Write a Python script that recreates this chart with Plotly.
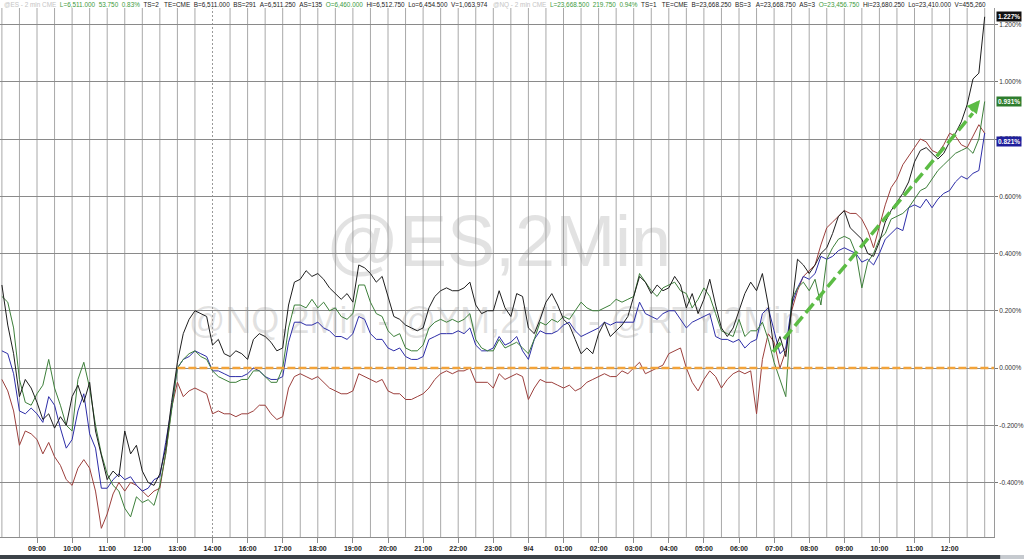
import plotly.graph_objects as go

# ---------------- data (percent change, 10-minute samples) ----------------
# x axis: session hours counted from 09:00 (index 0); 14:00 -> 16:00 break compressed
start_hour = -1.0
step_hours = 1 / 6

hour_labels = ["09:00", "10:00", "11:00", "12:00", "13:00", "14:00", "16:00", "17:00",
               "18:00", "19:00", "20:00", "21:00", "22:00", "23:00", "9/4", "01:00",
               "02:00", "03:00", "04:00", "05:00", "06:00", "07:00", "08:00", "09:00",
               "10:00", "11:00", "12:00"]

nq_black = [
    0.29, 0.15, 0.05, -0.10, -0.04, -0.07,
    -0.12, -0.18, -0.16, -0.21, -0.17, -0.20,
    -0.10, -0.06, -0.12, -0.05, -0.22, -0.30,
    -0.39, -0.36, -0.38, -0.22, -0.30, -0.27,
    -0.36, -0.40, -0.41, -0.37, -0.28, -0.12,
    0.02, 0.12, 0.17, 0.20, 0.19, 0.18,
    0.08, 0.10, 0.05, 0.04, 0.06, 0.05,
    0.03, 0.10, 0.12, 0.11, 0.09, 0.06,
    0.07, 0.22, 0.30, 0.31, 0.34, 0.32,
    0.33, 0.31, 0.28, 0.26, 0.24, 0.26,
    0.23, 0.36, 0.35, 0.33, 0.30, 0.32,
    0.25, 0.18, 0.17, 0.15, 0.14, 0.13,
    0.14, 0.21, 0.25, 0.27, 0.28, 0.27,
    0.27, 0.28, 0.30, 0.22, 0.19, 0.20,
    0.20, 0.27, 0.21, 0.18, 0.26, 0.25,
    0.14, 0.12, 0.17, 0.23, 0.26, 0.22,
    0.17, 0.15, 0.10, 0.05, 0.07, 0.05,
    0.12, 0.16, 0.11, 0.13, 0.15, 0.18,
    0.25, 0.32, 0.30, 0.26, 0.29, 0.27,
    0.28, 0.32, 0.29, 0.21, 0.26, 0.19,
    0.24, 0.31, 0.22, 0.14, 0.11, 0.14,
    0.20, 0.26, 0.30, 0.27, 0.33, 0.22,
    0.06, 0.11, 0.04, 0.22, 0.38, 0.36,
    0.33, 0.36, 0.40, 0.42, 0.47, 0.53,
    0.55, 0.49, 0.47, 0.45, 0.40, 0.39,
    0.44, 0.51, 0.55, 0.58, 0.61, 0.65,
    0.72, 0.76, 0.77, 0.75, 0.73, 0.75,
    0.79, 0.82, 0.86, 0.92, 1.01, 1.03,
    1.227]

es_green = [
    0.25, 0.23, 0.14, -0.04, -0.12, -0.13,
    -0.09, -0.06, 0.03, -0.07, -0.13, -0.20,
    -0.22, -0.04, 0.02, -0.07, -0.20, -0.30,
    -0.37, -0.41, -0.43, -0.49, -0.52, -0.45,
    -0.47, -0.46, -0.48, -0.41, -0.30, -0.15,
    0.00, 0.03, 0.05, 0.06, 0.04, 0.03,
    -0.01, -0.03, -0.04, -0.05, -0.05, -0.04,
    -0.04, -0.01, -0.01, -0.03, -0.05, -0.05,
    0.00, 0.14, 0.22, 0.22, 0.21, 0.24,
    0.21, 0.23, 0.20, 0.21, 0.18, 0.17,
    0.19, 0.29, 0.29, 0.23, 0.19, 0.18,
    0.13, 0.11, 0.12, 0.07, 0.06, 0.06,
    0.08, 0.14, 0.16, 0.17, 0.16, 0.17,
    0.16, 0.17, 0.19, 0.10, 0.07, 0.06,
    0.06, 0.10, 0.07, 0.08, 0.09, 0.07,
    0.05, 0.10, 0.16, 0.15, 0.17, 0.16,
    0.18, 0.17, 0.20, 0.23, 0.21, 0.20,
    0.20, 0.21, 0.22, 0.24, 0.23, 0.24,
    0.25, 0.33, 0.30, 0.27, 0.25, 0.28,
    0.29, 0.30, 0.27, 0.26, 0.21, 0.24,
    0.28, 0.25, 0.19, 0.13, 0.12, 0.11,
    0.17, 0.11, 0.13, 0.13, 0.16, 0.10,
    0.02, -0.04, -0.10, 0.24, 0.28, 0.30,
    0.27, 0.31, 0.22, 0.38, 0.42, 0.45,
    0.46, 0.45, 0.40, 0.28, 0.37, 0.40,
    0.45, 0.47, 0.52, 0.53, 0.54, 0.56,
    0.59, 0.62, 0.63, 0.66, 0.69, 0.71,
    0.73, 0.75, 0.76, 0.77, 0.75, 0.80,
    0.931]

ym_blue = [
    0.06, 0.05, -0.02, -0.15, -0.16, -0.14,
    -0.16, -0.19, -0.10, -0.13, -0.21, -0.28,
    -0.25, -0.15, -0.09, -0.23, -0.28, -0.42,
    -0.42, -0.39, -0.37, -0.39, -0.38, -0.41,
    -0.43, -0.42, -0.39, -0.38, -0.26, -0.14,
    0.00, 0.03, 0.04, 0.06, 0.05, 0.04,
    -0.01, -0.01, -0.02, -0.03, -0.03, -0.03,
    -0.02, 0.00, -0.01, -0.03, -0.04, -0.04,
    -0.03, 0.09, 0.16, 0.16, 0.15, 0.15,
    0.16, 0.14, 0.13, 0.11, 0.11, 0.10,
    0.12, 0.18, 0.17, 0.12, 0.10, 0.10,
    0.07, 0.06, 0.07, 0.04, 0.03, 0.03,
    0.04, 0.10, 0.11, 0.12, 0.12, 0.12,
    0.13, 0.12, 0.14, 0.08, 0.06, 0.06,
    0.07, 0.11, 0.08, 0.09, 0.11, 0.06,
    0.03, 0.10, 0.13, 0.12, 0.12, 0.13,
    0.15, 0.16, 0.13, 0.11, 0.12, 0.13,
    0.14, 0.16, 0.15, 0.16, 0.16, 0.16,
    0.16, 0.23, 0.19, 0.18, 0.17, 0.19,
    0.20, 0.20, 0.17, 0.14, 0.16, 0.17,
    0.18, 0.19, 0.11, 0.10, 0.10, 0.09,
    0.10, 0.07, 0.09, 0.10, 0.19, 0.21,
    0.13, 0.05, 0.07, 0.22, 0.28, 0.32,
    0.31, 0.33, 0.39, 0.38, 0.39, 0.41,
    0.42, 0.41, 0.40, 0.37, 0.38, 0.36,
    0.40, 0.45, 0.47, 0.49, 0.48, 0.56,
    0.57, 0.56, 0.59, 0.56, 0.59, 0.61,
    0.62, 0.65, 0.67, 0.66, 0.68, 0.69,
    0.821]

rty_red = [
    -0.04, -0.08, -0.15, -0.27, -0.22, -0.23,
    -0.25, -0.30, -0.26, -0.31, -0.34, -0.39,
    -0.41, -0.35, -0.32, -0.35, -0.43, -0.56,
    -0.51, -0.44, -0.40, -0.43, -0.40, -0.41,
    -0.43, -0.45, -0.43, -0.42, -0.30, -0.14,
    -0.05, -0.10, -0.08, -0.07, -0.08, -0.09,
    -0.16, -0.15, -0.16, -0.16, -0.17, -0.16,
    -0.16, -0.15, -0.13, -0.13, -0.16, -0.18,
    -0.17, -0.07, -0.03, -0.02, -0.03, -0.04,
    -0.03, -0.05, -0.07, -0.08, -0.09, -0.09,
    -0.08, -0.02, -0.03, -0.04, -0.05, -0.04,
    -0.08, -0.09, -0.09, -0.11, -0.11, -0.10,
    -0.09, -0.07, -0.04, -0.02, -0.01, -0.02,
    -0.01, -0.01, 0.00, -0.05, -0.05, -0.05,
    -0.07, -0.02, -0.04, -0.03, -0.02, -0.03,
    -0.11, -0.07, -0.04, -0.05, -0.05, -0.06,
    -0.07, -0.06, -0.08, -0.07, -0.05, -0.04,
    -0.03, -0.02, -0.03, -0.03, -0.01, -0.02,
    0.00, 0.02, -0.02, -0.01, 0.00, 0.01,
    0.05, 0.06, 0.07, 0.00, -0.05, -0.08,
    -0.04, -0.01, -0.03, -0.07, -0.04, -0.02,
    -0.01, -0.02, -0.01, -0.16, 0.03, 0.12,
    0.09, 0.00, 0.06, 0.20, 0.27, 0.32,
    0.34, 0.36, 0.43, 0.49, 0.51, 0.53,
    0.55, 0.54, 0.54, 0.52, 0.48, 0.42,
    0.50, 0.57, 0.63, 0.66, 0.71, 0.74,
    0.77, 0.80, 0.79, 0.76, 0.75, 0.78,
    0.82, 0.81, 0.78, 0.77, 0.81, 0.85,
    0.82]

y_ticks = [-0.4, -0.2, 0.0, 0.2, 0.4, 0.6, 0.8, 1.0, 1.2]

# ---------------- figure ----------------
x = [start_hour + i * step_hours for i in range(len(nq_black))]
X_MIN, X_MAX = -1.054, 27.265
Y_MIN, Y_MAX = -0.5904, 1.2577

fig = go.Figure()

# watermark (drawn first so it stays behind the lines)
fig.add_trace(go.Scatter(
    x=[13.15], y=[0.42], mode="text", text=["@ES,2Min"],
    textfont=dict(family="Liberation Sans, Arial", size=72, color="rgba(150,150,150,0.28)"),
    hoverinfo="skip", showlegend=False))
fig.add_trace(go.Scatter(
    x=[13.05], y=[0.155], mode="text", text=["@NQ,2Min - @YM,2Min - @RTY,2Min"],
    textfont=dict(family="Liberation Sans, Arial", size=36, color="rgba(150,150,150,0.28)"),
    hoverinfo="skip", showlegend=False))

series = [("RTY", rty_red, "#9c3f3c"), ("YM", ym_blue, "#2d2da8"),
          ("ES", es_green, "#3d7f3a"), ("NQ", nq_black, "#1e1e1e")]
for name, vals, col in series:
    fig.add_trace(go.Scatter(x=x, y=vals, mode="lines", name=name,
                             line=dict(color=col, width=1), showlegend=False))

shapes = []
# vertical grid: every 30 minutes, dashed at the session break
n_half = int((X_MAX - (-1.0)) * 2) + 1
for k in range(-2, n_half):
    xv = k / 2
    if xv < X_MIN or xv > X_MAX:
        continue
    if abs(xv - 5.0) < 1e-9:
        shapes.append(dict(type="line", xref="x", yref="paper", x0=xv, x1=xv, y0=0, y1=1,
                           line=dict(color="#9a9a9a", width=1, dash="2px,2px"), layer="below"))
    else:
        shapes.append(dict(type="line", xref="x", yref="paper", x0=xv, x1=xv, y0=0, y1=1,
                           line=dict(color="#a8a8a8", width=1), layer="below"))

# zero reference (orange dashed)
shapes.append(dict(type="line", xref="x", yref="y", x0=4.0, x1=X_MAX, y0=0, y1=0,
                   line=dict(color="#f2a33a", width=2.5, dash="8px,3px")))
# green trend arrow shaft
shapes.append(dict(type="line", xref="x", yref="y", x0=20.97, y0=0.056, x1=26.66, y1=0.89,
                   line=dict(color="#5cbc45", width=3.5, dash="12px,5px")))
# bottom bar
shapes.append(dict(type="rect", xref="paper", yref="paper", x0=-0.01, x1=1.0302,
                   y0=-0.0416, y1=-0.034, fillcolor="#3c4248", line=dict(width=0)))
shapes.append(dict(type="rect", xref="paper", yref="paper", x0=1.0062, x1=1.0302,
                   y0=-0.0416, y1=-0.034, fillcolor="#c6cacf", line=dict(width=0)))

annotations = []
# arrow head
annotations.append(dict(x=26.87, y=0.936, xref="x", yref="y", ax=-10, ay=12,
                        showarrow=True, arrowhead=2, arrowsize=0.75, arrowwidth=3.5,
                        arrowcolor="#5cbc45", text=""))

# header lines
g = "#3d9a3d"
k_ = "#1a1a1a"
gr = "#c4c4c4"
es_head = (f'<span style="color:{gr}">@ES - 2 min CME</span>  '
           f'<span style="color:{g}">L=6,511.000  53.750  0.83%</span>  '
           f'<span style="color:{k_}">TS=2   TE=CME  B=6,511.000  BS=291  A=6,511.250  AS=135</span>  '
           f'<span style="color:{g}">O=6,460.000</span>  '
           f'<span style="color:{k_}">Hi=6,512.750  Lo=6,454.500  V=1,063,974</span>')
nq_head = (f'<span style="color:{gr}">@NQ - 2 min CME</span>  '
           f'<span style="color:{g}">L=23,668.500  219.750  0.94%</span>  '
           f'<span style="color:{k_}">TS=1   TE=CME  B=23,668.250  BS=3   A=23,668.750  AS=3</span>  '
           f'<span style="color:{g}">O=23,456.750</span>  '
           f'<span style="color:{k_}">Hi=23,680.250  Lo=23,410.000  V=455,260</span>')
for txt, px in [(es_head, 2), (nq_head, 491)]:
    annotations.append(dict(x=px / 994, y=1.0057, xref="paper", yref="paper",
                            xanchor="left", yanchor="middle", showarrow=False,
                            text=txt.replace("  ", "\u00a0\u00a0"),
                            font=dict(family="Liberation Sans, Arial", size=6.4)))

# last value boxes
for val, ypos, col in [(nq_black[-1], nq_black[-1], "#111111"),
                       (es_green[-1], es_green[-1], "#2e7d2e"),
                       (ym_blue[-1], 0.79, "#1f1f9c")]:
    annotations.append(dict(x=996 / 994, y=ypos, xref="paper", yref="y",
                            xanchor="left", yanchor="middle", showarrow=False,
                            text=f"<b>{val:.3f}%</b>", bgcolor=col, borderpad=1,
                            font=dict(family="Liberation Sans, Arial", size=6.5, color="white")))

fig.update_layout(
    width=1024, height=559,
    margin=dict(l=0, r=30, t=8, b=22),
    paper_bgcolor="white", plot_bgcolor="white",
    showlegend=False,
    shapes=shapes, annotations=annotations,
    xaxis=dict(range=[X_MIN, X_MAX], tickmode="array",
               tickvals=list(range(len(hour_labels))), ticktext=hour_labels,
               showgrid=False, zeroline=False, showline=True, linecolor="#8c8c8c",
               ticks="outside", ticklen=5, tickcolor="#8c8c8c",
               tickfont=dict(family="Liberation Sans, Arial", size=7, color="#222222", weight="bold"),
               fixedrange=True),
    yaxis=dict(range=[Y_MIN, Y_MAX], side="right", tickmode="array",
               tickvals=y_ticks, ticktext=[f"{v:.3f}%" for v in y_ticks],
               showgrid=True, gridcolor="#8a8a8a", gridwidth=1, zeroline=False,
               showline=True, linecolor="#9a9a9a",
               ticks="outside", ticklen=3, tickcolor="#777777",
               tickfont=dict(family="Liberation Sans, Arial", size=6.5, color="#333333"),
               fixedrange=True),
)

fig.write_html("out.html",
               config={"displayModeBar": False, "staticPlot": True},
               post_script="document.body.style.margin='0';document.body.style.overflow='hidden';")
